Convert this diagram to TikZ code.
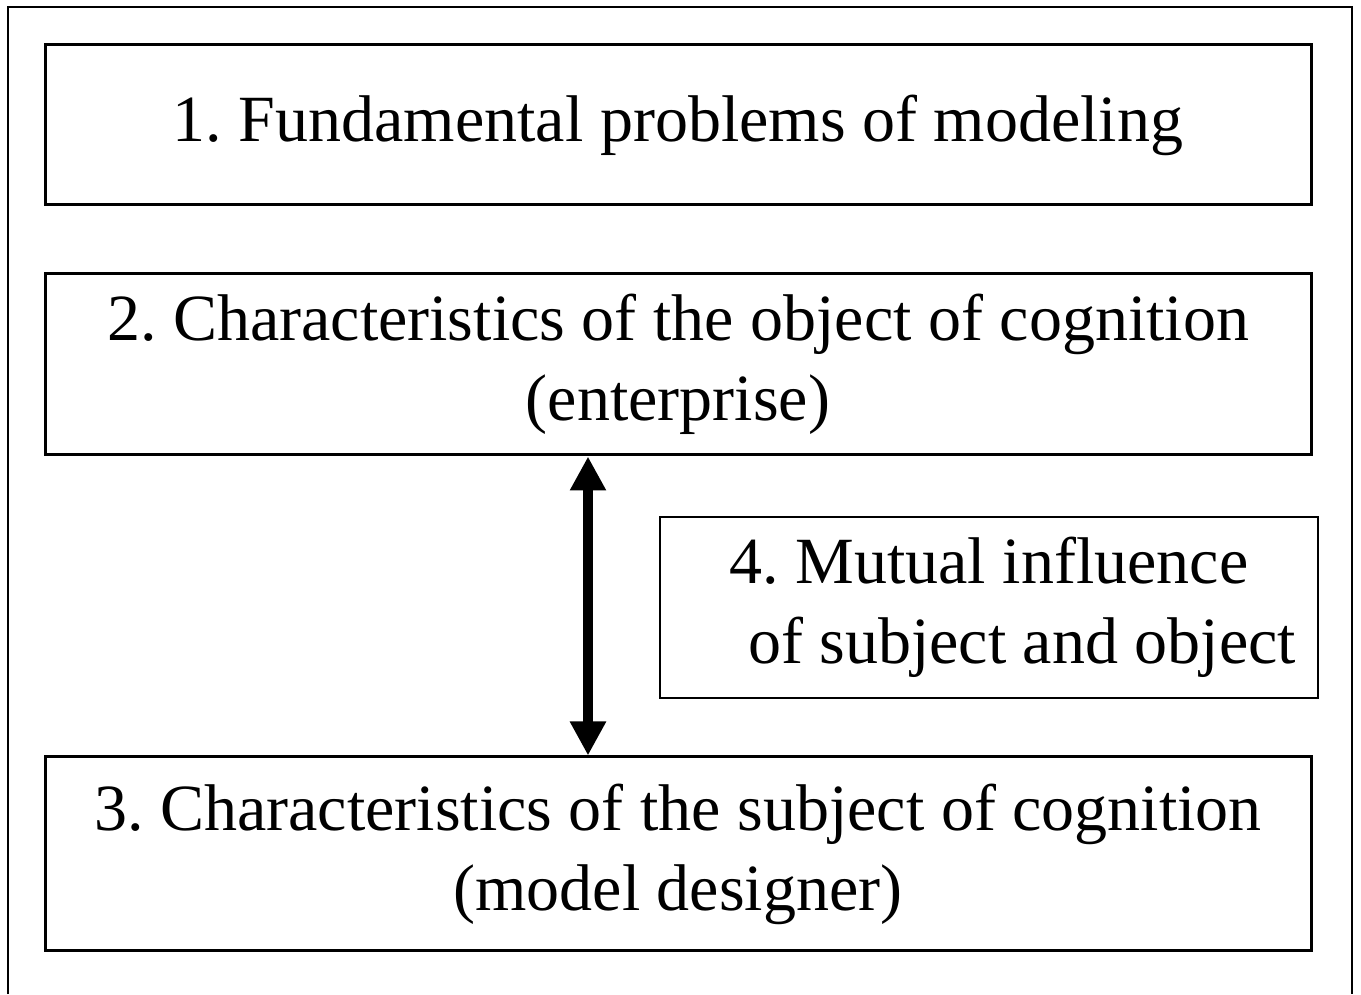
\documentclass[tikz,border=0pt]{standalone}
\usepackage{fontspec}
\setmainfont{Liberation Serif}
\usetikzlibrary{arrows.meta}
\frenchspacing
\begin{document}
\begin{tikzpicture}[x=1pt,y=1pt,
    box/.style={draw,line width=3pt,align=center,inner sep=0pt,
      font=\fontsize{66}{80}\selectfont},
    mainbox/.style={box,minimum width=1266pt},
    sidebox/.style={box,line width=2pt,minimum width=658pt,minimum height=181pt},
    link/.style={line width=10pt,{Triangle[length=34pt,width=34pt]}-{Triangle[length=34pt,width=34pt]}}]
  \useasboundingbox (0,0) rectangle (1361,994);
  % outer frame, open at the bottom
  \draw[line width=2.5pt] (8,0) -- (8,987) -- (1352,987) -- (1352,0);
  \node[mainbox,minimum height=160pt] (fund) at (678,869) {1. Fundamental problems of modeling};
  \node[mainbox,minimum height=181pt] (object) at (678,629.5)
    {2. Characteristics of the object of cognition\\(enterprise)};
  \node[mainbox,minimum height=194pt] (subject) at (678,140)
    {3. Characteristics of the subject of cognition\\(model designer)};
  \node[sidebox] (mutual) at (989,386.5)
    {4. Mutual influence\\\hspace*{1em}of subject and object};
  \coordinate (axis) at (588,0);
  \draw[link] (object.south -| axis) -- (subject.north -| axis);
\end{tikzpicture}
\end{document}
